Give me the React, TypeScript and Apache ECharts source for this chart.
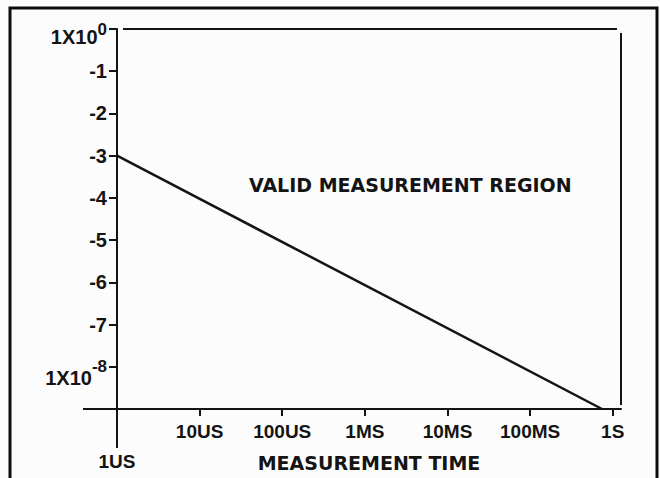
import React, { useEffect, useRef } from "react";
import * as echarts from "echarts";

// x: decades above 1 microsecond; y: exponent of the boundary value
const timeLabels = ["1US", "10US", "100US", "1MS", "10MS", "100MS", "1S"];
const timeDecades = [0, 1, 2, 3, 4, 5, 6];
const exponentTicks = [0, -1, -2, -3, -4, -5, -6, -7, -8];
const boundaryX = [0, 5.87];
const boundaryY = [-3, -9];

const INK = "#141414";
const TICK_FONT = "'Liberation Sans', Arial, sans-serif";
const TITLE_FONT = "'DejaVu Sans', sans-serif";

export default function App() {
  const ref = useRef<HTMLDivElement>(null);

  useEffect(() => {
    if (!ref.current) return;
    const chart = echarts.init(ref.current, undefined, { renderer: "svg", width: 660, height: 478 });

    const option: any = {
      animation: false,
      backgroundColor: "#fcfcfc",
      grid: { left: 117, top: 29, width: 504, height: 380, containLabel: false, outerBoundsMode: "none" },
      xAxis: {
        type: "value",
        min: 0,
        max: 6.1,
        interval: 1,
        splitLine: { show: false },
        axisLine: { show: true, onZero: false, lineStyle: { color: INK, width: 2 } },
        axisTick: { show: true, customValues: timeDecades.slice(1), length: 7, lineStyle: { color: INK, width: 2 } },
        axisLabel: {
          customValues: timeDecades,
          margin: 13,
          color: INK,
          fontFamily: TICK_FONT,
          fontWeight: "bold",
          fontSize: 19,
          formatter: (v: number) => {
            const i = timeDecades.indexOf(Math.round(v));
            if (i < 0) return "";
            return i === 0 ? "{low|" + timeLabels[i] + "}" : timeLabels[i];
          },
          rich: {
            low: { fontFamily: TICK_FONT, fontWeight: "bold", fontSize: 19, color: INK, padding: [30, 0, 0, 0] },
          },
        },
        name: "MEASUREMENT TIME",
        nameLocation: "middle",
        nameGap: 44,
        nameMoveOverlap: false,
        nameTextStyle: { color: INK, fontFamily: TITLE_FONT, fontWeight: "bold", fontSize: 19 },
      },
      yAxis: {
        type: "value",
        min: -9,
        max: 0,
        interval: 1,
        splitLine: { show: false },
        axisLine: { show: true, onZero: false, lineStyle: { color: INK, width: 2 } },
        axisTick: { show: true, customValues: exponentTicks, length: 8, lineStyle: { color: INK, width: 2 } },
        axisLabel: {
          customValues: exponentTicks,
          margin: 10,
          color: INK,
          fontFamily: TICK_FONT,
          fontWeight: "bold",
          fontSize: 20,
          formatter: (v: number) => {
            const e = Math.round(v);
            if (e === 0) return "{b0|1X10}{s|0}";
            if (e === -8) return "{b8|1X10}{s|-8}";
            return String(e);
          },
          rich: {
            b0: { fontFamily: TICK_FONT, fontWeight: "bold", fontSize: 20, lineHeight: 20, color: INK, padding: [16, 0, 0, 0] },
            b8: { fontFamily: TICK_FONT, fontWeight: "bold", fontSize: 20, lineHeight: 20, color: INK, padding: [22, 0, 0, 0] },
            s: { fontFamily: TICK_FONT, fontWeight: "bold", fontSize: 17, lineHeight: 17, color: INK },
          },
        },
      },
      series: [
        {
          type: "line",
          data: boundaryX.map((x, i) => [x, boundaryY[i]]),
          symbol: "none",
          lineStyle: { color: INK, width: 2.5 },
        },
      ],
    };
    chart.setOption(option);

    const [x0, yb] = chart.convertToPixel({ gridIndex: 0 }, [0, -9]) as number[];
    const [xr, yt] = chart.convertToPixel({ gridIndex: 0 }, [6.1, 0]) as number[];
    const [xMid, yRegion] = chart.convertToPixel({ gridIndex: 0 }, [3.55, -3.7]) as number[];
    const lineStyle = { stroke: INK, lineWidth: 2 };

    chart.setOption({
      graphic: [
        { type: "polyline", shape: { points: [[10, 480], [10, 8], [657, 8], [657, 480]] }, style: { stroke: "#0c0c0c", lineWidth: 3, fill: "none" } },
        { type: "line", shape: { x1: x0 - 34, y1: yb, x2: x0, y2: yb }, style: lineStyle },
        { type: "line", shape: { x1: x0, y1: yb, x2: x0, y2: yb + 39 }, style: lineStyle },
        { type: "line", shape: { x1: x0 + 6, y1: yt, x2: xr - 4, y2: yt }, style: lineStyle },
        { type: "line", shape: { x1: xr, y1: yt + 4, x2: xr, y2: yb - 4 }, style: lineStyle },
        {
          type: "text",
          x: xMid,
          y: yRegion,
          style: {
            text: "VALID MEASUREMENT REGION",
            fill: INK,
            font: "bold 19px " + TITLE_FONT,
            textAlign: "center",
            textVerticalAlign: "middle",
          },
        },
      ],
    });

    return () => chart.dispose();
  }, []);

  return <div ref={ref} style={{ position: "absolute", left: 0, top: 0, width: 660, height: 478 }} />;
}
